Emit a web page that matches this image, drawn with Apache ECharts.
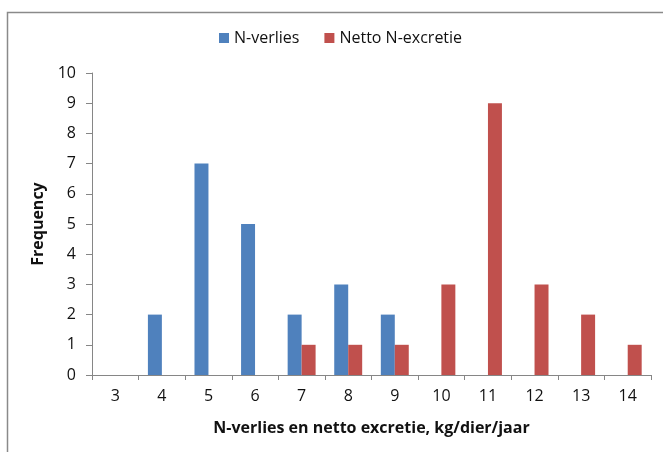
<!DOCTYPE html>
<html>
<head>
<meta charset="utf-8">
<script src="https://cdn.jsdelivr.net/npm/echarts@6/dist/echarts.min.js"></script>
<style>
html,body{margin:0;padding:0;background:#fff;}
#c{width:663px;height:452px;}
</style>
</head>
<body>
<div id="c"></div>
<script>
var categories = ['3','4','5','6','7','8','9','10','11','12','13','14'];
var nVerlies = [0,2,7,5,2,3,2,0,0,0,0,0];
var nettoExcretie = [0,0,0,0,1,1,1,3,9,3,2,1];
var yTicks = [0,1,2,3,4,5,6,7,8,9,10];

var font = '"Open Sans", "Noto Sans", sans-serif';
var chart = echarts.init(document.getElementById('c'), null, {renderer:'canvas'});
chart.setOption({
  animation:false,
  backgroundColor:'#fff',
  graphic:[{
    type:'rect', left:5, top:10, shape:{width:700,height:500},
    style:{fill:'none', stroke:'#8a8a8a', lineWidth:1.5}, silent:true, z:-1
  }],
  legend:{
    top:25, left:214,
    itemWidth:10, itemHeight:10, itemGap:25,
    icon:'rect',
    textStyle:{fontFamily:font, fontSize:16, color:'#111', padding:[0,0,0,0]},
    data:['N-verlies','Netto N-excretie']
  },
  grid:{left:92, right:12, top:73, bottom:77, containLabel:false},
  xAxis:{
    type:'category', data:categories,
    name:'N-verlies en netto excretie, kg/dier/jaar',
    nameLocation:'middle', nameGap:45,
    nameTextStyle:{fontFamily:font, fontSize:16, fontWeight:'bold', color:'#111'},
    axisLine:{lineStyle:{color:'#868686', width:1}},
    axisTick:{show:true, alignWithLabel:false, length:5, lineStyle:{color:'#868686'}},
    axisLabel:{fontFamily:font, fontSize:16, color:'#111', margin:13}
  },
  yAxis:{
    type:'value', min:0, max:10, interval:1,
    name:'Frequency', nameLocation:'middle', nameGap:46, nameRotate:90,
    nameTextStyle:{fontFamily:font, fontSize:16, fontWeight:'bold', color:'#111'},
    axisLine:{show:true, lineStyle:{color:'#868686', width:1}},
    axisTick:{show:true, length:6, lineStyle:{color:'#868686'}},
    splitLine:{show:false},
    axisLabel:{fontFamily:font, fontSize:16, color:'#111', margin:16,
      formatter:function(v){return yTicks.indexOf(v)>=0?String(v):'';}}
  },
  series:[
    {name:'N-verlies', type:'bar', data:nVerlies, barWidth:'30%', barGap:'0%',
     itemStyle:{color:'#4F81BD'}},
    {name:'Netto N-excretie', type:'bar', data:nettoExcretie, barWidth:'30%', barGap:'0%',
     itemStyle:{color:'#C0504D'}}
  ]
});
</script>
</body>
</html>
